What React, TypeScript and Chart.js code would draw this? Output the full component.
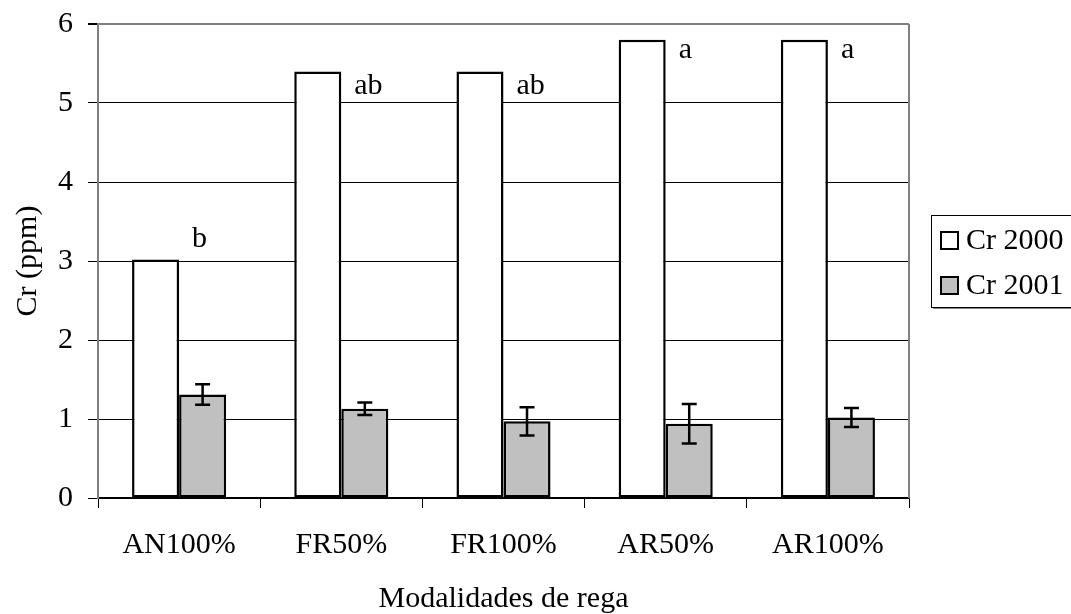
import React, { useEffect, useRef } from "react";
import { Chart, registerables } from "chart.js";

Chart.register(...registerables);

const categories = ["AN100%", "FR50%", "FR100%", "AR50%", "AR100%"];
const cr2000 = [3.02, 5.4, 5.4, 5.8, 5.8];
const cr2001 = [1.31, 1.13, 0.97, 0.94, 1.02];
const cr2001Err = [0.13, 0.08, 0.18, 0.25, 0.12];
const sigLetters = ["b", "ab", "ab", "a", "a"];
const sigLetterY = [3.18, 5.11, 5.11, 5.57, 5.57];
const yTicks = [0, 1, 2, 3, 4, 5, 6];

const FONT = "'Liberation Serif', 'Times New Roman', serif";

export default function App() {
  const ref = useRef<HTMLCanvasElement | null>(null);

  useEffect(() => {
    if (!ref.current) return;

    const errorBars = {
      id: "errorBars",
      afterDatasetsDraw(chart: any) {
        const ctx = chart.ctx;
        const y = chart.scales.y;
        const meta = chart.getDatasetMeta(1);
        ctx.save();
        ctx.strokeStyle = "#000";
        ctx.lineWidth = 2.5;
        meta.data.forEach((bar: any, i: number) => {
          const v = cr2001[i];
          const e = cr2001Err[i];
          const yt = y.getPixelForValue(v + e);
          const yb = y.getPixelForValue(v - e);
          const x = bar.x;
          ctx.beginPath();
          ctx.moveTo(x, yt);
          ctx.lineTo(x, yb);
          ctx.moveTo(x - 7.5, yt);
          ctx.lineTo(x + 7.5, yt);
          ctx.moveTo(x - 7.5, yb);
          ctx.lineTo(x + 7.5, yb);
          ctx.stroke();
        });
        // significance letters
        const meta0 = chart.getDatasetMeta(0);
        ctx.fillStyle = "#000";
        ctx.font = `30px ${FONT}`;
        ctx.textAlign = "left";
        ctx.textBaseline = "alphabetic";
        meta0.data.forEach((bar: any, i: number) => {
          const x = bar.x + bar.width / 2 + 13;
          ctx.fillText(sigLetters[i], x, y.getPixelForValue(sigLetterY[i]));
        });
        // right border of plot area
        const a = chart.chartArea;
        ctx.strokeStyle = "#808080";
        ctx.lineWidth = 2;
        ctx.beginPath();
        ctx.moveTo(a.right, a.top);
        ctx.lineTo(a.right, a.bottom);
        ctx.stroke();
        ctx.restore();
      },
    };

    const customLegend = {
      id: "customLegend",
      afterDraw(chart: any) {
        const ctx = chart.ctx;
        const x0 = 931;
        const y0 = 215;
        const w = 160;
        const h = 92;
        ctx.save();
        ctx.fillStyle = "#808080";
        ctx.fillRect(x0 + 2, y0 + h, w, 2);
        ctx.fillStyle = "#fff";
        ctx.fillRect(x0, y0, w, h);
        ctx.strokeStyle = "#000";
        ctx.lineWidth = 1;
        ctx.strokeRect(x0 + 0.5, y0 + 0.5, w, h);
        ctx.font = `30px ${FONT}`;
        ctx.textAlign = "left";
        ctx.textBaseline = "alphabetic";
        chart.data.datasets.forEach((ds: any, i: number) => {
          const sy = 231 + i * 45;
          ctx.fillStyle = ds.backgroundColor;
          ctx.fillRect(940, sy, 19, 19);
          ctx.strokeStyle = "#000";
          ctx.lineWidth = 2;
          ctx.strokeRect(941, sy + 1, 17, 17);
          ctx.fillStyle = "#000";
          ctx.fillText(ds.label, 966, sy + 18);
        });
        ctx.restore();
      },
    };

    const chart = new Chart(ref.current, {
      type: "bar",
      data: {
        labels: categories,
        datasets: [
          {
            label: "Cr 2000",
            data: cr2000,
            backgroundColor: "#ffffff",
            borderColor: "#000000",
            borderWidth: 2.5,
            borderSkipped: false,
          },
          {
            label: "Cr 2001",
            data: cr2001,
            backgroundColor: "#c0c0c0",
            borderColor: "#000000",
            borderWidth: 2.5,
            borderSkipped: false,
          },
        ],
      },
      options: {
        animation: false,
        responsive: false,
        devicePixelRatio: 1,
        layout: { padding: { top: 24, right: 162, left: 0, bottom: 0 } },
        datasets: {
          bar: { categoryPercentage: 0.58, barPercentage: 1.0 },
        },
        plugins: {
          legend: { display: false },
          tooltip: { enabled: false },
        },
        scales: {
          x: {
            afterFit: (s: any) => {
              s.height = 116;
              s.paddingLeft = 0;
              s.paddingRight = 0;
            },
            grid: {
              display: true,
              offset: true,
              drawOnChartArea: false,
              drawTicks: true,
              tickLength: 10,
              color: "#000",
            },
            border: { display: true, color: "#000", width: 1.5 },
            ticks: {
              color: "#000",
              font: { family: FONT, size: 30 },
              padding: 19,
              maxRotation: 0,
            },
            title: {
              display: true,
              text: "Modalidades de rega",
              color: "#000",
              font: { family: FONT, size: 30, lineHeight: 1 },
              padding: { top: 0, bottom: 0 },
            },
          },
          y: {
            min: 0,
            max: 6,
            afterFit: (s: any) => {
              s.width = 98;
              s.paddingTop = 0;
              s.paddingBottom = 0;
            },
            afterBuildTicks: (s: any) => {
              s.ticks = yTicks.map((v) => ({ value: v }));
            },
            grid: {
              color: (c: any) => (c.tick && c.tick.value === 6 ? "#808080" : "#000"),
              lineWidth: (c: any) => (c.tick && c.tick.value === 6 ? 2 : 1),
              tickColor: "#000",
              tickLength: 10,
              drawTicks: true,
            },
            border: { display: true, color: "#808080", width: 2 },
            ticks: {
              color: "#000",
              font: { family: FONT, size: 30 },
              padding: 15,
              stepSize: 1,
            },
            title: {
              display: true,
              text: "Cr (ppm)",
              color: "#000",
              font: { family: FONT, size: 30, lineHeight: 1 },
              padding: { top: 13, bottom: 0 },
            },
          },
        },
      },
      plugins: [errorBars, customLegend],
    });

    return () => chart.destroy();
  }, []);

  return (
    <div style={{ position: "absolute", left: 0, top: 0, width: 1071, height: 614, background: "#fff" }}>
      <canvas ref={ref} width={1071} height={614} style={{ display: "block" }} />
    </div>
  );
}
